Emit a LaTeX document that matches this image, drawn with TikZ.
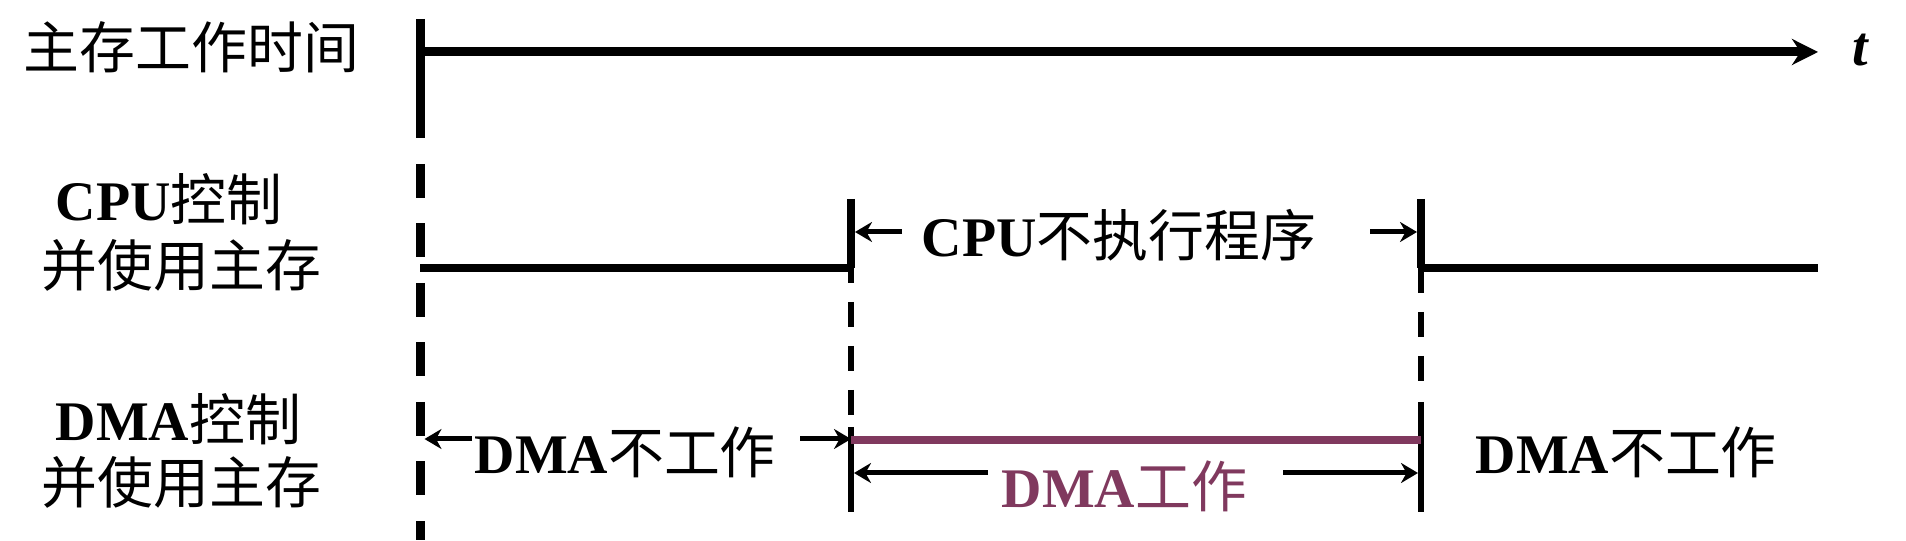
\documentclass[tikz,border=0pt]{standalone}
\usepackage{fontspec}
\setmainfont{Liberation Serif}
\newfontfamily\cjk{Noto Sans CJK SC}
\usetikzlibrary{arrows.meta}
\definecolor{dmapurple}{RGB}{128,57,94}
\newcommand{\zh}[1]{{\cjk #1}}

\tikzset{
  timeaxis/.style={line width=0.09cm, -{Stealth[length=0.26cm,width=0.26cm]}},
  cpuline/.style={line width=0.085cm},
  bar/.style={line width=0.08cm},
  guide/.style={line width=0.06cm, dash pattern=on 0.25cm off 0.19cm},
  dimarrow/.style={line width=0.05cm, -{Stealth[length=0.17cm,width=0.2cm]}},
  lbl/.style={inner sep=0pt, anchor=west, font=\fontsize{15.9pt}{19pt}\selectfont},
}

\begin{document}
\begin{tikzpicture}
\useasboundingbox (0,0) rectangle (19.06,5.40);

% time axis and the start line
\coordinate (o) at (4.20,4.88);
\coordinate (oe) at (18.18,4.88);
\coordinate (otop) at (4.20,5.21);
\coordinate (obot) at (4.20,4.02);
\coordinate (odash) at (4.20,3.76);
\coordinate (oend) at (4.20,0);
\draw[timeaxis] (o) -- (oe);
\draw[black, line width=0.09cm] (otop) -- (obot);
\draw[black, line width=0.09cm, dash pattern=on 0.34cm off 0.255cm] (odash) -- (oend);
\node (t) at (18.60,4.90) {\fontsize{15.9pt}{19pt}\selectfont\bfseries\itshape t};

% CPU level
\coordinate (c0) at (4.20,2.72);
\coordinate (c1) at (8.51,2.72);
\coordinate (c1top) at (8.51,3.41);
\coordinate (c1low) at (8.51,1.24);
\coordinate (c2) at (14.21,2.72);
\coordinate (c2top) at (14.21,3.41);
\coordinate (c2low) at (14.21,1.58);
\coordinate (c3) at (18.18,2.72);
\draw[cpuline] (c0) -- (c1);
\draw[cpuline] (c2) -- (c3);
\draw[bar] (c1top) -- (c1);
\draw[bar] (c2top) -- (c2);
\draw[guide, dash phase=0.10cm] (c1) -- (c1low);
\draw[guide] (c2) -- (c2low);

% DMA level
\coordinate (d1top) at (8.51,1.13);
\coordinate (d1bot) at (8.51,0.28);
\coordinate (d2top) at (14.21,1.38);
\coordinate (d2bot) at (14.21,0.28);
\draw[line width=0.055cm] (d1top) -- (d1bot);
\draw[line width=0.055cm] (d2top) -- (d2bot);
\draw[dmapurple, line width=0.08cm] (8.51,1.00) coordinate (p0) -- (14.21,1.00) coordinate (p1);

% labels on the left
\node[lbl] (mem) at (0.23,4.93) {\zh{主存工作时间}};
\node[lbl] (cpu1) at (0.55,3.41) {\textbf{CPU}\zh{控制}};
\node[lbl] (cpu2) at (0.41,2.75) {\zh{并使用主存}};
\node[lbl] (dma1) at (0.55,1.21) {\textbf{DMA}\zh{控制}};
\node[lbl] (dma2) at (0.41,0.58) {\zh{并使用主存}};

% spans
\node[lbl] (cpuoff) at (9.21,3.05) {\textbf{CPU}\zh{不执行程序}};
\node[lbl] (dmaoff1) at (4.74,0.88) {\textbf{DMA}\zh{不工作}};
\node[lbl, text=dmapurple] (dmaon) at (10.01,0.54) {\textbf{DMA}\zh{工作}};
\node[lbl] (dmaoff2) at (14.75,0.88) {\textbf{DMA}\zh{不工作}};

\coordinate (cl) at (9.02,3.08);
\coordinate (cr) at (13.70,3.08);
\draw[dimarrow] (cl) -- ([xshift=0.04cm]cl -| c1);
\draw[dimarrow] (cr) -- ([xshift=-0.04cm]cr -| c2);

\coordinate (al) at (4.72,1.01);
\coordinate (ar) at (8.00,1.01);
\draw[dimarrow] (al) -- ([xshift=0.045cm]al -| o);
\draw[dimarrow] (ar) -- (ar -| c1);

\coordinate (bl) at (9.88,0.67);
\coordinate (br) at (12.83,0.67);
\draw[dimarrow] (bl) -- ([xshift=0.03cm]bl -| c1);
\draw[dimarrow] (br) -- ([xshift=-0.03cm]br -| c2);
\end{tikzpicture}
\end{document}
